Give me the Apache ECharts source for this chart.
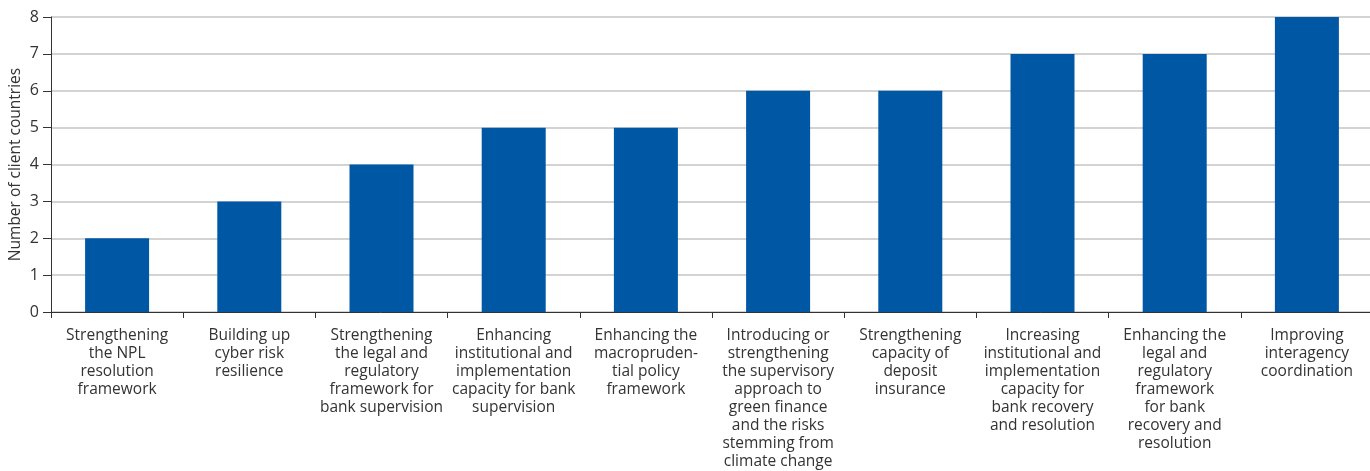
<!DOCTYPE html>
<html lang="en">
<head>
    <meta charset="UTF-8">
    <title>Client countries by topic</title>
    <script src="https://cdn.jsdelivr.net/npm/echarts@6/dist/echarts.min.js"></script>
    <style>
        html, body { margin: 0; padding: 0; background: #fff; }
        #main { width: 1370px; height: 471px; }
    </style>
</head>
<body>
    <div id="main"></div>
    <script type="text/javascript">
        // data
        const categories = [
            'Strengthening\nthe NPL\nresolution\nframework',
            'Building up\ncyber risk\nresilience',
            'Strengthening\nthe legal and\nregulatory\nframework for\nbank supervision',
            'Enhancing\ninstitutional and\nimplementation\ncapacity for bank\nsupervision',
            'Enhancing the\nmacropruden-\ntial policy\nframework',
            'Introducing or\nstrengthening\nthe supervisory\napproach to\ngreen finance\nand the risks\nstemming from\nclimate change',
            'Strengthening\ncapacity of\ndeposit\ninsurance',
            'Increasing\ninstitutional and\nimplementation\ncapacity for\nbank recovery\nand resolution',
            'Enhancing the\nlegal and\nregulatory\nframework\nfor bank\nrecovery and\nresolution',
            'Improving\ninteragency\ncoordination'
        ];
        const counts = [2, 3, 4, 5, 5, 6, 6, 7, 7, 8];
        const yTicks = [0, 1, 2, 3, 4, 5, 6, 7, 8];

        var myChart = echarts.init(document.getElementById('main'));
        var font = '"Open Sans", "Noto Sans", sans-serif';

        var option = {
            animation: false,
            textStyle: { fontFamily: font },
            grid: {
                left: 51,
                top: 17,
                width: 1322,
                height: 295,
                containLabel: false,
                outerBoundsMode: 'none'
            },
            xAxis: {
                type: 'category',
                data: categories,
                axisLine: { lineStyle: { color: '#333', width: 1 } },
                axisTick: { show: true, length: 6, lineStyle: { color: '#333' } },
                axisLabel: {
                    interval: 0,
                    margin: 15,
                    color: '#333',
                    fontSize: 15.5,
                    lineHeight: 18,
                    fontFamily: font,
                    align: 'center'
                },
                splitLine: { show: false }
            },
            yAxis: {
                type: 'value',
                min: yTicks[0],
                max: yTicks[yTicks.length - 1],
                interval: 1,
                name: 'Number of client countries',
                nameLocation: 'middle',
                nameGap: 27,
                nameMoveOverlap: false,
                nameRotate: 90,
                nameTextStyle: { color: '#333', fontSize: 15.5, fontFamily: font },
                axisLine: { show: true, lineStyle: { color: '#333', width: 1 } },
                axisTick: { show: true, length: 8, lineStyle: { color: '#333' } },
                axisLabel: { color: '#333', fontSize: 16, margin: 12, fontFamily: font },
                splitLine: { show: true, lineStyle: { color: '#c4c4c4', width: 1.5 } }
            },
            series: [{
                type: 'bar',
                data: counts,
                barWidth: 64,
                itemStyle: { color: '#0057a4' }
            }]
        };
        myChart.setOption(option);
    </script>
</body>
</html>
